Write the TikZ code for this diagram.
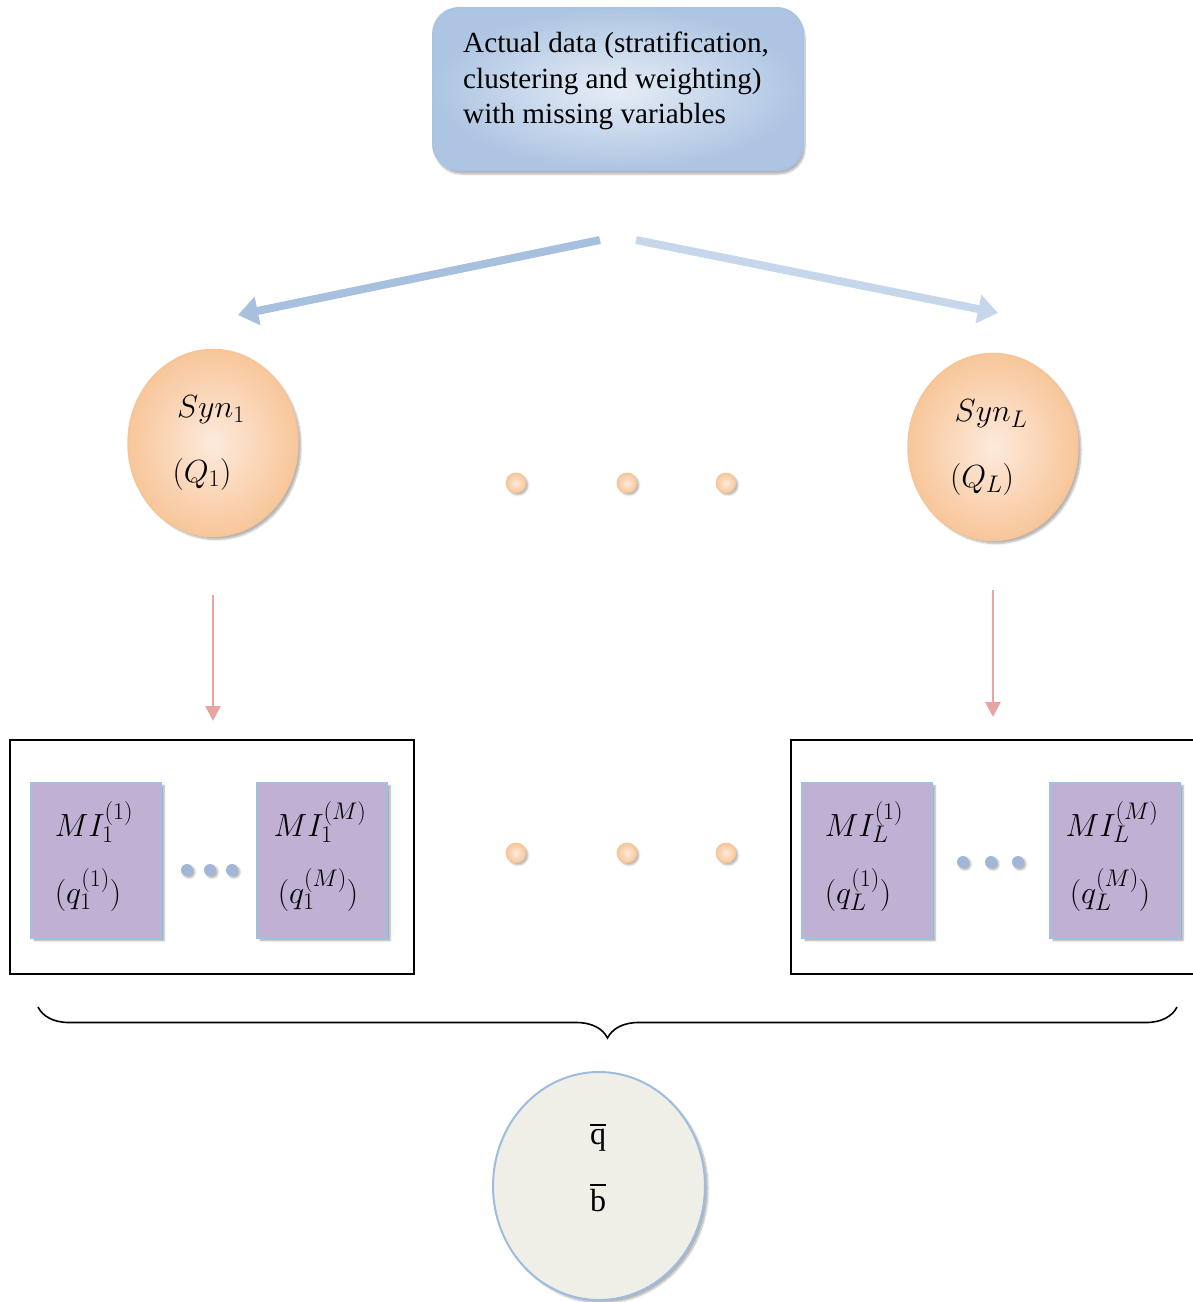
\RequirePackage{fix-cm}
\documentclass[tikz,border=0pt]{standalone}
\usepackage{fontspec}
\setmainfont{Liberation Serif}
\DeclareMathSizes{32}{32}{24}{19}
\usetikzlibrary{arrows.meta,shapes.geometric,decorations.pathreplacing,shadows.blur}
\definecolor{topin}{HTML}{E6ECF6}
\definecolor{topout}{HTML}{ADC5E2}
\definecolor{topdraw}{HTML}{A8C3E3}
\definecolor{orin}{HTML}{FDEADC}
\definecolor{orout}{HTML}{F8C69A}
\definecolor{ordraw}{HTML}{F6C495}
\definecolor{arrL}{HTML}{A7C0DE}
\definecolor{arrR}{HTML}{C6D6EB}
\definecolor{redarr}{HTML}{E8A4A2}
\definecolor{mifill}{HTML}{C0B0D4}
\definecolor{midraw}{HTML}{9FC0E2}
\definecolor{dotblue}{HTML}{A2B6D8}
\definecolor{qfill}{HTML}{EFEFE7}
\definecolor{qdraw}{HTML}{9EBCE0}
\newcommand{\barred}[2]{\makebox[0pt][l]{\raisebox{#1}{\rule{0.5em}{1.4pt}}}#2}
\tikzset{
  topbox/.style={rounded corners=26pt, draw=topdraw, line width=2pt, inner color=topin, outer color=topout,
     minimum width=370pt, minimum height=162pt, blur shadow={shadow xshift=2pt,shadow yshift=-4pt,shadow blur steps=6,shadow opacity=30}},
  synell/.style={ellipse, draw=ordraw, line width=1.5pt, inner color=orin, outer color=orout,
     minimum width=170pt, minimum height=187pt, blur shadow={shadow xshift=3pt,shadow yshift=-3pt,shadow blur steps=6,shadow opacity=30}},
  mibox/.style={rectangle, draw=midraw, line width=2pt, fill=mifill, minimum width=130pt, minimum height=155pt,
     blur shadow={shadow xshift=3pt,shadow yshift=-3pt,shadow blur steps=5,shadow opacity=35}},
  odot/.style={circle, inner sep=0pt, minimum size=20pt, draw=ordraw, line width=0.8pt, inner color=orin, outer color=orout,
     blur shadow={shadow xshift=2pt,shadow yshift=-2pt,shadow blur steps=4,shadow opacity=30}},
  bdot/.style={circle, inner sep=0pt, minimum size=12pt, fill=dotblue,
     blur shadow={shadow xshift=2pt,shadow yshift=-2pt,shadow blur steps=4,shadow opacity=30}},
  outerbox/.style={draw=black, line width=2pt},
  bigarrow/.style={line width=8pt, -{Triangle[length=20pt,width=28pt]}},
  redarrow/.style={draw=redarr, line width=2.6pt, -{Triangle[length=15pt,width=15pt]}},
  qell/.style={ellipse, draw=qdraw, line width=2pt, fill=qfill, minimum width=212pt, minimum height=228pt,
     blur shadow={shadow xshift=3pt,shadow yshift=-3pt,shadow blur steps=6,shadow opacity=30}},
  mtext/.style={font=\fontsize{32}{34}\selectfont, inner sep=0pt},
}
\begin{document}
\begin{tikzpicture}[x=1pt,y=-1pt]
\useasboundingbox (0,0) rectangle (1193,1302);
% top box
\node[topbox] (top) at (618,89) {};
\node[anchor=west, align=left, font=\fontsize{29.2}{35.5}\selectfont, inner sep=0pt] (toptext) at (463,81)
  {Actual data (stratification,\\clustering and weighting)\\with missing variables};
% big arrows
\coordinate (aLs) at (600,240);
\coordinate (aLe) at (238,315);
\coordinate (aRs) at (636,240);
\coordinate (aRe) at (998,313);
\draw[bigarrow, draw=arrL, fill=arrL] (aLs) -- (aLe);
\draw[bigarrow, draw=arrR, fill=arrR] (aRs) -- (aRe);
% Syn ellipses
\node[synell] (syn1) at (213,443) {};
\node[synell] (synL) at (993,447) {};
\node[mtext] (syn1a) at (211,410) {$Syn_1$};
\node[mtext] (syn1b) at (202,474) {$(Q_1)$};
\node[mtext] (synLa) at (991,414) {$Syn_L$};
\node[mtext] (synLb) at (982,479) {$(Q_L)$};
% orange dots
\node[odot] (d1) at (516,483) {};
\node[odot] (d2) at (627,483) {};
\node[odot] (d3) at (726,483) {};
\node[odot] (d4) at (516,853) {};
\node[odot] (d5) at (627,853) {};
\node[odot] (d6) at (726,853) {};
% red arrows
\coordinate (r1s) at (213,595);
\coordinate (r1e) at (213,721);
\coordinate (r2s) at (993,590);
\coordinate (r2e) at (993,717);
\draw[redarrow] (r1s) -- (r1e);
\draw[redarrow] (r2s) -- (r2e);
% outer boxes
\draw[outerbox] (10,740) rectangle (414,974);
\draw[outerbox] (1194,740) -- (791,740) -- (791,974) -- (1194,974);
% MI boxes left
\node[mibox] (mi11) at (96,860) {};
\node[mibox] (mi1M) at (322,860) {};
\node[mtext] at (94,822) {$MI_1^{(1)}$};
\node[mtext] at (88,890) {$(q_1^{(1)})$};
\node[mtext] at (320,822) {$MI_1^{(M)}$};
\node[mtext] at (318,890) {$(q_1^{(M)})$};
\node[bdot] (b1) at (187,870) {};
\node[bdot] (b2) at (210,870) {};
\node[bdot] (b3) at (232,870) {};
% MI boxes right
\node[mibox] (miL1) at (867,860) {};
\node[mibox] (miLM) at (1115,860) {};
\node[mtext] at (864,822) {$MI_L^{(1)}$};
\node[mtext] at (858,890) {$(q_L^{(1)})$};
\node[mtext] at (1112,822) {$MI_L^{(M)}$};
\node[mtext] at (1110,890) {$(q_L^{(M)})$};
\node[bdot] (b4) at (963,862) {};
\node[bdot] (b5) at (991,862) {};
\node[bdot] (b6) at (1018,862) {};
% brace
\coordinate (brl) at (38,1007);
\coordinate (brr) at (1177,1007);
\draw[line width=1.6pt, decorate, decoration={brace, mirror, amplitude=31pt, aspect=0.5}] (brl) -- (brr);
% bottom ellipse
\node[qell] (qb) at (599,1186) {};
\node[mtext] (qbar) at (598,1138) {\barred{0.6em}{q}};
\node[mtext] (bbar) at (598,1198) {\barred{0.8em}{b}};
\end{tikzpicture}
\end{document}
